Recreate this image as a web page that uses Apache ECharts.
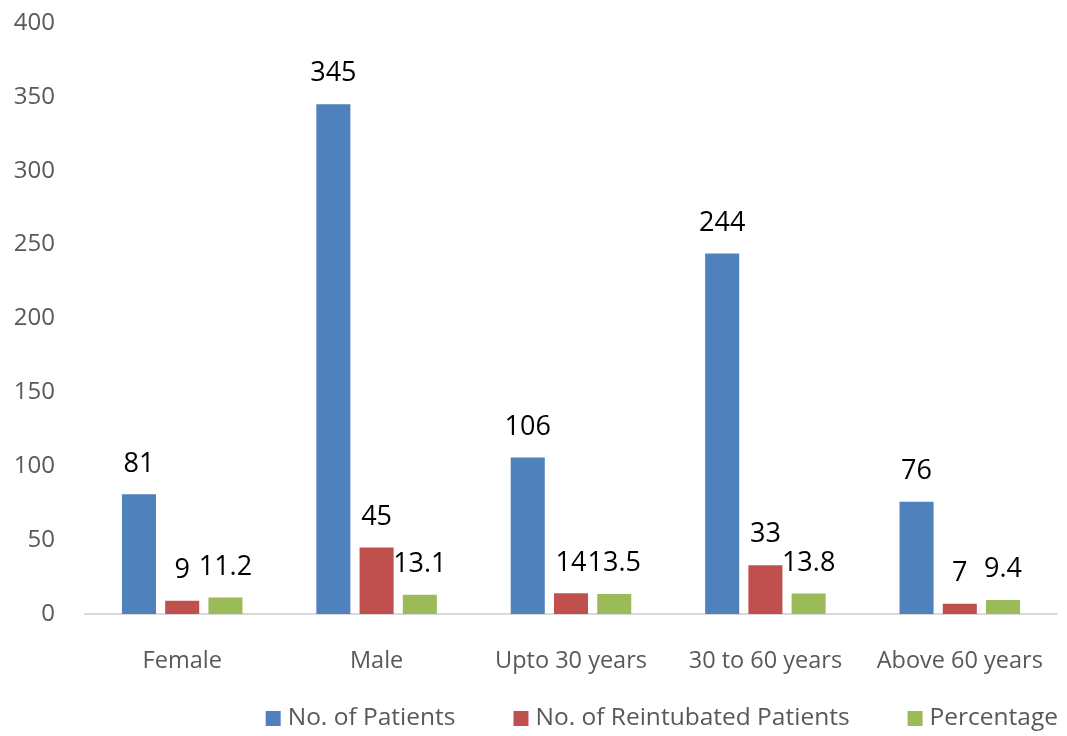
<!DOCTYPE html>
<html><head><meta charset="utf-8">
<script src="https://cdn.jsdelivr.net/npm/echarts@6/dist/echarts.min.js"></script>
<style>html,body{margin:0;padding:0;background:#fff}#c{width:1067px;height:736px}</style>
</head><body><div id="c"></div>
<script>
const categories = ['Female', 'Male', 'Upto 30 years', '30 to 60 years', 'Above 60 years'];
const patients = [81, 345, 106, 244, 76];
const reintubated = [9, 45, 14, 33, 7];
const percentage = [11.2, 13.1, 13.5, 13.8, 9.4];
const yTicks = {min: 0, max: 400, interval: 50};

const font = 'Open Sans, Noto Sans, sans-serif';
const lbl = {show: true, position: 'top', distance: 17, color: '#000', fontSize: 27, fontFamily: font};
const chart = echarts.init(document.getElementById('c'));
chart.setOption({
  animation: false,
  grid: {left: 85, right: 10, top: 23, bottom: 122},
  legend: {
    right: 4, bottom: 0, itemWidth: 15, itemHeight: 15, itemGap: 58,
    icon: 'rect',
    textStyle: {fontSize: 24.5, color: '#595959', fontFamily: font, padding: [0, 0, 0, 2]},
    data: ['No. of Patients', 'No. of Reintubated Patients', 'Percentage']
  },
  xAxis: {
    type: 'category', data: categories,
    axisLine: {lineStyle: {color: '#d9d9d9', width: 2}},
    axisTick: {show: false},
    axisLabel: {color: '#595959', fontSize: 23.5, fontFamily: font, margin: 35, interval: 0, hideOverlap: false}
  },
  yAxis: {
    type: 'value', min: yTicks.min, max: yTicks.max, interval: yTicks.interval,
    splitLine: {show: false}, axisLine: {show: false}, axisTick: {show: false},
    axisLabel: {color: '#595959', fontSize: 24, fontFamily: font, margin: 30}
  },
  series: [
    {name: 'No. of Patients', type: 'bar', data: patients, itemStyle: {color: '#4F81BD'}, label: lbl, barGap: '27%', barCategoryGap: '38%'},
    {name: 'No. of Reintubated Patients', type: 'bar', data: reintubated, itemStyle: {color: '#C0504D'}, label: lbl},
    {name: 'Percentage', type: 'bar', data: percentage, itemStyle: {color: '#9BBB59'}, label: lbl}
  ]
});
</script></body></html>
